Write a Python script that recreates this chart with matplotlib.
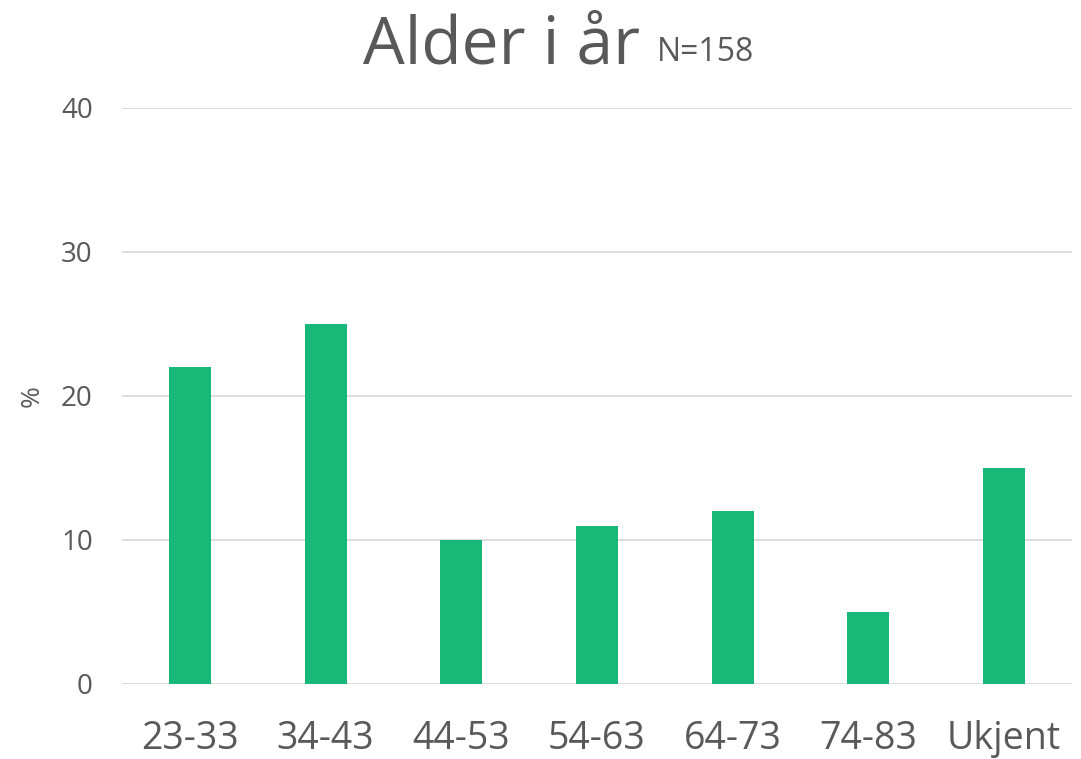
import matplotlib
matplotlib.use("Agg")
import matplotlib.pyplot as plt

categories = ['23-33', '34-43', '44-53', '54-63', '64-73', '74-83', 'Ukjent']
values = [22, 25, 10, 11, 12, 5, 15]
yticks = [0, 10, 20, 30, 40]

text_col = '#595959'
bar_col = '#18B978'
grid_col = '#D9D9D9'

plt.rcParams['font.family'] = ['Open Sans', 'DejaVu Sans']

W, H = 1081, 759
fig = plt.figure(figsize=(W / 100, H / 100), dpi=100)
ax = fig.add_axes([122 / W, 1 - 684 / H, (1072 - 122) / W, (684 - 108) / H])

x = range(len(categories))
ax.bar(x, values, width=0.31, color=bar_col, zorder=3)
ax.set_xlim(-0.5, len(categories) - 0.5)
ax.set_ylim(0, 40)
ax.set_yticks(yticks)
ax.set_xticks(list(x))
ax.set_xticklabels(categories, fontsize=27, color=text_col)
ax.tick_params(axis='x', length=0, pad=26)
ax.tick_params(axis='y', length=0, pad=21, labelsize=20, labelcolor=text_col)
ax.grid(axis='y', color=grid_col, linewidth=1.3, zorder=0)
for s in ax.spines.values():
    s.set_visible(False)
ax.set_ylabel('%', fontsize=19, color=text_col, labelpad=12)

# title in two sizes
fig.text(640 / W, 1 - 63 / H, 'Alder i år', fontsize=47.5, color=text_col,
         ha='right', va='baseline')
fig.text(657 / W, 1 - 61 / H, 'N=158', fontsize=23, color=text_col,
         ha='left', va='baseline')

fig.savefig('out.png', dpi=100)
